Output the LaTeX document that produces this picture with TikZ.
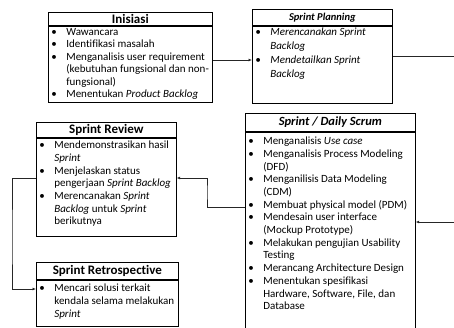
\documentclass[tikz,border=0pt]{standalone}
\usepackage{fontspec}
\setmainfont{Carlito}[Ligatures=NoCommon]
\usepackage{enumitem}
\usetikzlibrary{positioning}
\usetikzlibrary{arrows.meta}

\setlist[itemize]{label=\textbullet, nosep, leftmargin=18pt, labelindent=3pt, labelwidth=15pt, labelsep=0pt, align=left}
\newcommand{\daftar}[4]{\parbox[t][#2][t]{#1}{\vspace*{#3}\begin{itemize}#4\end{itemize}}}

\begin{document}
\begin{tikzpicture}[x=1pt, y=-1pt]
  \tikzset{judul/.style = {draw, line width=0.7pt, anchor=north west, inner sep=0pt, font=\fontsize{13}{14}\selectfont\bfseries},
           isi/.style = {draw, line width=0.7pt, inner sep=0pt, below=0pt of #1, font=\fontsize{11}{12.7}\selectfont},
           panah/.style = {line width=0.7pt, draw=black!85, -{Latex[length=3.5pt,width=3pt]}}}
  \useasboundingbox (0,0) rectangle (454,327);

  \node[judul, minimum width=164pt, minimum height=13pt] (ini) at (48,12) {Inisiasi};
  \node[isi=ini, font=\fontsize{11}{12.5}\selectfont] (iniB) {\daftar{164pt}{76pt}{2pt}{
     \item Wawancara
     \item Identifikasi masalah
     \item Menganalisis user requirement\\(kebutuhan fungsional dan non-\\fungsional)
     \item Menentukan \textit{Product Backlog}}};

  \node[judul, minimum width=140pt, minimum height=16pt, font=\fontsize{10.5}{12}\selectfont\bfseries\itshape] (plan) at (252,9) {Sprint Planning};
  \node[isi=plan, font=\fontsize{11}{14}\selectfont\itshape] (planB) {\daftar{140pt}{77pt}{1.5pt}{
     \item Merencanakan Sprint\\Backlog
     \item Mendetailkan Sprint\\Backlog}};

  \node[judul, minimum width=170pt, minimum height=18pt, font=\fontsize{12.5}{14}\selectfont\bfseries\itshape] (ds) at (245,113) {Sprint / Daily Scrum};
  \node[isi=ds] (dsB) {\daftar{170pt}{220pt}{5pt}{
     \item Menganalisis \textit{Use case}
     \item Menganalisis Process Modeling\\(DFD)
     \item Menganilisis Data Modeling\\(CDM)
     \item Membuat physical model (PDM)
     \item Mendesain user interface\\(Mockup Prototype)
     \item Melakukan pengujian Usability\\Testing
     \item Merancang Architecture Design
     \item Menentukan spesifikasi\\Hardware, Software, File, dan\\Database}};

  \node[judul, minimum width=140pt, minimum height=15pt] (sr) at (36,122) {Sprint Review};
  \node[isi=sr] (srB) {\daftar{140pt}{98pt}{3pt}{
     \item Mendemonstrasikan hasil\\\textit{Sprint}
     \item Menjelaskan status\\pengerjaan \textit{Sprint Backlog}
     \item Merencanakan \textit{Sprint}\\\textit{Backlog} untuk \textit{Sprint}\\berikutnya}};

  \node[judul, minimum width=142pt, minimum height=17pt] (rt) at (36,262) {Sprint Retrospective};
  \node[isi=rt] (rtB) {\daftar{142pt}{46pt}{4pt}{
     \item Mencari solusi terkait\\kendala selama melakukan\\\textit{Sprint}}};

  \draw[panah] (iniB.east |- 0,60) -- (planB.west |- 0,60);
  \draw[panah] (planB.east |- 0,56) -- (462,56) |- (dsB.east |- 0,222);
  \draw[panah] (dsB.west |- 0,207) -| (207,192) |- (srB.east |- 0,178);
  \draw[panah] (srB.west |- 0,178) -| (12,240) |- (rtB.west |- 0,289);
\end{tikzpicture}
\end{document}
